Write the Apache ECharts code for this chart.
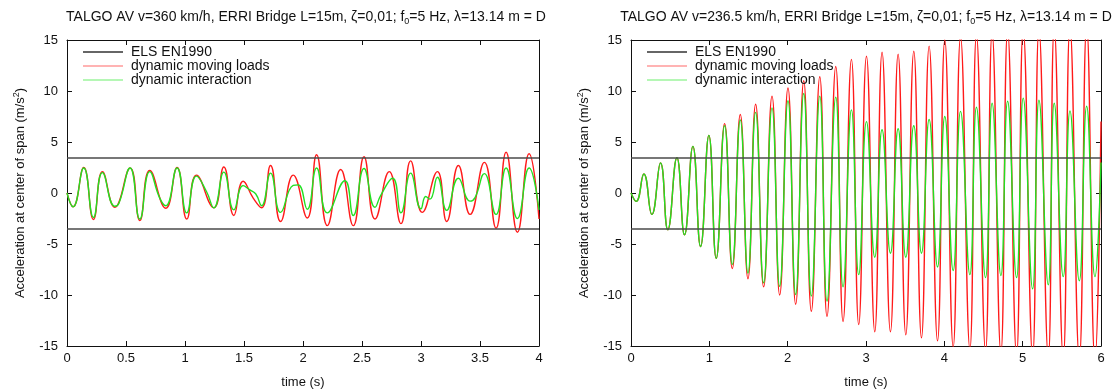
<!DOCTYPE html>
<html>
<head>
<meta charset="utf-8">
<title>TALGO AV – ERRI Bridge L=15m</title>
<script src="https://cdn.jsdelivr.net/npm/echarts@6/dist/echarts.min.js"></script>
<style>
  html, body { margin: 0; padding: 0; background: #fff; }
  #chart { width: 1118px; height: 390px; }
</style>
</head>
<body>
<div id="chart"></div>
<script>
// ---- Data -------------------------------------------------------------
// Serviceability limit (ELS, EN1990) on deck acceleration, m/s²
const ELS_LIMIT = 3.5;

// Panel A: v = 360 km/h, [time (s), acceleration (m/s²)]
const A_MOVING_LOADS = [
  [0.000, 0.0], [0.051, -1.35], [0.142, 2.5], [0.224, -2.6], [0.300, 2.1],
  [0.405, -1.4], [0.535, 2.45], [0.617, -2.7], [0.701, 2.2], [0.837, -1.5],
  [0.933, 2.5], [1.015, -2.55], [1.097, 1.75], [1.244, -1.45], [1.329, 2.55],
  [1.414, -2.2], [1.493, 1.15], [1.578, -0.5], [1.649, -1.45], [1.725, 2.7],
  [1.810, -2.8], [1.917, 1.75], [2.036, -2.45], [2.115, 3.75], [2.206, -3.2],
  [2.319, 2.3], [2.426, -3.2], [2.517, 3.55], [2.610, -2.55], [2.731, 2.1],
  [2.830, -3.0], [2.912, 3.15], [3.011, -1.9], [3.139, 2.1], [3.218, -2.8],
  [3.317, 2.7], [3.416, -2.1], [3.537, 3.0], [3.636, -3.45], [3.721, 4.0],
  [3.817, -3.85], [3.916, 3.85], [4.000, -2.55]
];
const A_INTERACTION = [
  [0.000, 0.0], [0.051, -1.35], [0.142, 2.45], [0.224, -2.4], [0.300, 2.0],
  [0.405, -1.3], [0.440, -1.0], [0.535, 2.45], [0.617, -2.55], [0.701, 2.1],
  [0.786, -0.5], [0.837, -1.25], [0.933, 2.45], [1.015, -1.95], [1.097, 1.65],
  [1.182, 0.15], [1.244, -1.45], [1.329, 2.05], [1.414, -1.65], [1.493, 0.72],
  [1.550, 0.3], [1.600, -0.1], [1.649, -1.25], [1.725, 1.95], [1.810, -1.9],
  [1.917, 0.75], [1.960, 0.8], [2.036, -1.6], [2.115, 2.45], [2.206, -1.95],
  [2.355, 1.2], [2.426, -2.2], [2.517, 2.4], [2.610, -1.4], [2.660, -0.2],
  [2.760, 1.45], [2.830, -1.95], [2.912, 1.95], [3.000, -1.55], [3.040, -0.35],
  [3.076, -0.6], [3.139, 1.55], [3.218, -1.7], [3.317, 1.45], [3.416, -0.8],
  [3.458, -0.45], [3.537, 1.9], [3.636, -2.1], [3.721, 2.45], [3.817, -2.5],
  [3.916, 2.45], [4.000, -1.65]
];

// Panel B: v = 236.5 km/h (resonance), extrema times (s)
const B_TIME = [
  0.000, 0.066, 0.164, 0.266, 0.377, 0.470, 0.586, 0.683, 0.790, 0.888,
  0.994, 1.088, 1.195, 1.293, 1.395, 1.493, 1.591, 1.693, 1.800, 1.898,
  2.004, 2.102, 2.205, 2.302, 2.410, 2.502, 2.614, 2.707, 2.814, 2.907,
  3.006, 3.112, 3.205, 3.312, 3.410, 3.508, 3.610, 3.708, 3.806, 3.913,
  4.006, 4.113, 4.207, 4.326, 4.410, 4.526, 4.610, 4.722, 4.808, 4.922,
  5.007, 5.127, 5.208, 5.327, 5.403, 5.518, 5.604, 5.723, 5.817, 5.923,
  6.000
];
const B_MOVING_LOADS = [
  0.0, -0.82, 1.86, -2.1, 2.94, -3.6, 3.45, -4.1, 4.57, -5.25,
  5.65, -6.4, 6.8, -7.4, 7.7, -8.4, 8.7, -9.2, 9.5, -10.0,
  10.3, -10.9, 11.0, -11.6, 11.4, -12.1, 12.4, -12.6, 13.1, -12.9,
  13.4, -13.6, 13.8, -13.6, 13.6, -13.9, 13.9, -14.2, 14.4, -14.5,
  15.0, -15.1, 15.3, -15.3, 15.5, -15.5, 15.7, -15.7, 15.9, -15.9,
  16.0, -16.0, 16.1, -16.1, 16.2, -16.2, 16.3, -16.3, 16.4, -16.4,
  7.0
];
const B_INTERACTION = [
  0.0, -0.82, 1.86, -2.1, 2.94, -3.6, 3.45, -4.1, 4.57, -5.25,
  5.65, -6.4, 6.6, -7.0, 7.15, -7.85, 7.9, -8.8, 8.35, -9.15,
  9.05, -9.95, 9.75, -10.1, 9.5, -10.6, 9.4, -9.2, 8.15, -8.0,
  7.0, -6.3, 6.2, -5.9, 6.3, -6.3, 6.6, -5.9, 7.2, -7.25,
  7.5, -7.6, 8.0, -8.0, 8.4, -8.3, 8.8, -8.1, 9.0, -8.3,
  9.3, -9.4, 9.1, -9.0, 8.8, -8.2, 8.05, -8.6, 8.5, -8.2,
  3.0
];

// Axis ranges / ticks
const A_TIME_MAX = 4, A_TIME_STEP = 0.5;
const B_TIME_MAX = 6, B_TIME_STEP = 1;
const ACC_MIN = -15, ACC_MAX = 15, ACC_STEP = 5;

const TITLE_A = 'TALGO AV v=360 km/h, ERRI Bridge L=15m, ζ=0,01; f{sub|0}=5 Hz, λ=13.14 m = D';
const TITLE_B = 'TALGO AV v=236.5 km/h, ERRI Bridge L=15m, ζ=0,01; f{sub|0}=5 Hz, λ=13.14 m = D';
const NAME_ELS = 'ELS EN1990';
const NAME_MOVING = 'dynamic moving loads';
const NAME_INTERACTION = 'dynamic interaction';

// ---- Styling ----------------------------------------------------------
const FONT = '"Liberation Sans", Arial, Helvetica, sans-serif';
const INK = '#111';
const COLOR_ELS = '#4a4a4a';
const COLOR_MOVING = '#ff1a1a';
const COLOR_INTER = '#22e022';
// thin horizontal bar used as the legend key
const KEY_ICON = 'path://M0,0H40V1.6H0Z';

const grids = [
  { left: 67, top: 40, width: 472, height: 306, outerBoundsMode: 'none' },
  { left: 631, top: 40, width: 470, height: 306, outerBoundsMode: 'none' }
];

function xAxes(gi, max, step) {
  const common = {
    type: 'value', gridIndex: gi, min: 0, max: max, interval: step,
    axisLine: { show: true, onZero: false, lineStyle: { color: INK, width: 1 } },
    axisTick: { show: true, inside: true, length: 5, lineStyle: { color: INK } },
    splitLine: { show: false }
  };
  return [
    Object.assign({}, common, {
      position: 'bottom',
      axisLabel: { color: INK, fontSize: 13, fontFamily: FONT, margin: 6 },
      name: 'time (s)', nameLocation: 'middle', nameGap: 30,
      nameTextStyle: { color: INK, fontSize: 13, fontFamily: FONT }
    }),
    Object.assign({}, common, { position: 'top', axisLabel: { show: false } })
  ];
}

function yAxes(gi) {
  const common = {
    type: 'value', gridIndex: gi, min: ACC_MIN, max: ACC_MAX, interval: ACC_STEP,
    axisLine: { show: true, onZero: false, lineStyle: { color: INK, width: 1 } },
    axisTick: { show: true, inside: true, length: 5, lineStyle: { color: INK } },
    splitLine: { show: false }
  };
  return [
    Object.assign({}, common, {
      position: 'left',
      axisLabel: { color: INK, fontSize: 13, fontFamily: FONT, margin: 9 },
      name: 'Acceleration at center of span (m/s{sup|2})',
      nameLocation: 'middle', nameRotate: 90, nameGap: 38,
      nameTextStyle: {
        color: INK, fontSize: 13, fontFamily: FONT, lineHeight: 17,
        rich: { sup: { fontSize: 9, fontFamily: FONT, color: INK, verticalAlign: 'top', lineHeight: 17 } }
      }
    }),
    Object.assign({}, common, { position: 'right', axisLabel: { show: false } })
  ];
}

function elsSeries(xi, yi) {
  return {
    name: NAME_ELS, type: 'line', xAxisIndex: xi, yAxisIndex: yi, data: [],
    symbol: 'none', lineStyle: { color: COLOR_ELS, width: 1.6 },
    itemStyle: { color: COLOR_ELS },
    markLine: {
      silent: true, symbol: ['none', 'none'], label: { show: false },
      lineStyle: { color: COLOR_ELS, width: 1.6, type: 'solid' },
      emphasis: { disabled: true },
      data: [{ yAxis: ELS_LIMIT }, { yAxis: -ELS_LIMIT }]
    }
  };
}

function curve(name, color, xi, yi, data) {
  return {
    name: name, type: 'line', xAxisIndex: xi, yAxisIndex: yi, data: data,
    smooth: 0.5, symbol: 'none', showSymbol: false, clip: true,
    lineStyle: { color: color, width: 1.4 }, itemStyle: { color: color }
  };
}

function legend(left) {
  return {
    show: true, orient: 'vertical', left: left, top: 45, padding: 0,
    itemWidth: 40, itemHeight: 14, itemGap: 0, selectedMode: false,
    icon: KEY_ICON, symbolKeepAspect: true,
    textStyle: { color: INK, fontSize: 14, fontFamily: FONT, padding: [0, 0, 0, 3] },
    data: [
      { name: NAME_ELS, itemStyle: { color: '#333', borderWidth: 0 } },
      { name: NAME_MOVING, itemStyle: { color: '#ff9a9a', borderWidth: 0 } },
      { name: NAME_INTERACTION, itemStyle: { color: '#9cf59c', borderWidth: 0 } }
    ]
  };
}

function title(cx, text) {
  return {
    type: 'text', x: cx, y: 17,
    style: {
      text: text, x: 0, y: 0, align: 'center', verticalAlign: 'middle',
      font: '14px ' + FONT, fill: INK, lineHeight: 18,
      rich: { sub: { fontSize: 9, fontFamily: FONT, fill: INK, verticalAlign: 'bottom', lineHeight: 18 } }
    }
  };
}

const chart = echarts.init(document.getElementById('chart'), null, { renderer: 'canvas' });
chart.setOption({
  animation: false,
  backgroundColor: '#fff',
  grid: grids,
  xAxis: [].concat(xAxes(0, A_TIME_MAX, A_TIME_STEP), xAxes(1, B_TIME_MAX, B_TIME_STEP)),
  yAxis: [].concat(yAxes(0), yAxes(1)),
  legend: [legend(grids[0].left + 16), legend(grids[1].left + 16)],
  graphic: [
    title(grids[0].left + grids[0].width / 2 + 3, TITLE_A),
    title(grids[1].left + grids[1].width / 2, TITLE_B)
  ],
  series: [
    elsSeries(0, 0),
    curve(NAME_MOVING, COLOR_MOVING, 0, 0, A_MOVING_LOADS),
    curve(NAME_INTERACTION, COLOR_INTER, 0, 0, A_INTERACTION),
    elsSeries(2, 2),
    curve(NAME_MOVING, COLOR_MOVING, 2, 2, B_TIME.map((t, i) => [t, B_MOVING_LOADS[i]])),
    curve(NAME_INTERACTION, COLOR_INTER, 2, 2, B_TIME.map((t, i) => [t, B_INTERACTION[i]]))
  ]
});
</script>
</body>
</html>
